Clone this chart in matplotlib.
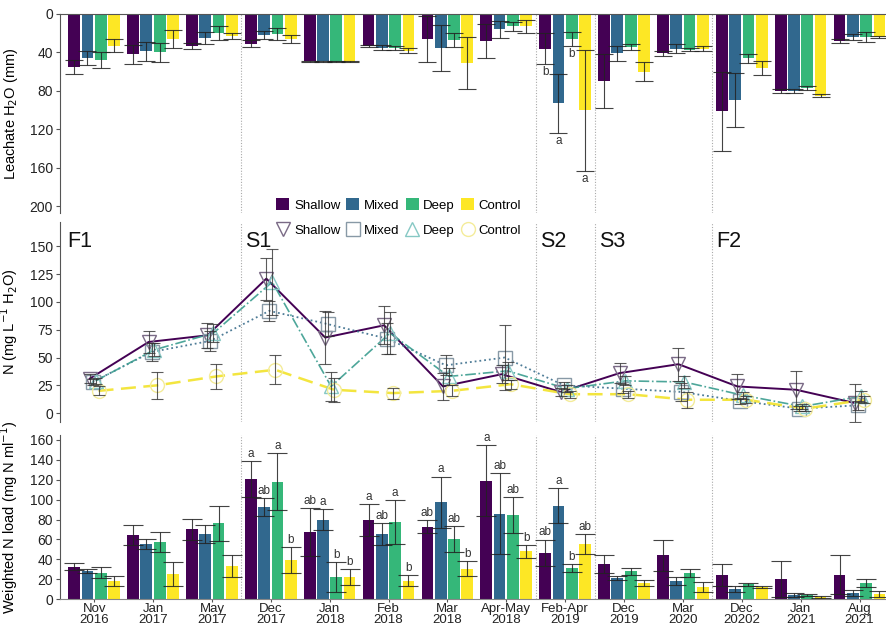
import numpy as np
import matplotlib.pyplot as plt
from matplotlib.patches import Patch
from matplotlib.lines import Line2D

plt.rcParams['font.family'] = ['Liberation Sans', 'DejaVu Sans']

dates = ["Nov\n2016", "Jan\n2017", "May\n2017", "Dec\n2017", "Jan\n2018", "Feb\n2018",
         "Mar\n2018", "Apr-May\n2018", "Feb-Apr\n2019", "Dec\n2019", "Mar\n2020",
         "Dec\n20202", "Jan\n2021", "Aug\n2021"]
treatments = ["Shallow", "Mixed", "Deep", "Control"]
phase_labels = ["F1", "S1", "S2", "S3", "F2"]
phase_starts = [-0.5, 2.5, 7.5, 8.5, 10.5]

# leachate volume (mm), mean and se per treatment
leach_shallow = [55, 42, 33, 31, 49, 33, 26, 28, 36, 70, 41, 101, 80, 28]
leach_shallow_se = [7, 9.5, 3, 3.5, 0.5, 1, 24, 17.5, 16, 28, 3, 41, 2, 2.5]
leach_mixed = [46, 39, 25, 22, 49, 35, 35, 16, 93, 41, 36, 89, 80, 24]
leach_mixed_se = [7, 10, 6.5, 4, 0.5, 2.5, 24, 8.5, 31, 8, 5, 28, 2.5, 3.5]
leach_deep = [48, 40, 20, 21, 49.5, 35.5, 27, 13, 26, 34, 37, 46, 77, 24]
leach_deep_se = [8.5, 10, 7, 6, 0.5, 2, 7, 5, 7.5, 3, 2, 4.5, 2.5, 5]
leach_control = [33, 26, 23, 26, 49.5, 38, 51, 13, 100, 60, 36, 56, 85, 24]
leach_control_se = [7, 9, 3, 4, 0.5, 3, 27, 7, 63, 10, 2.5, 7, 1.5, 1]
leach_letters = {8: ["b", "a", "b", "a"]}

# N concentration (mg/L)
conc_shallow = [31, 64, 70, 121, 68, 79, 24, 35, 19, 36, 44, 24, 21, 9]
conc_shallow_se = [4, 10, 11, 19, 24, 17, 12, 8, 4, 9, 15, 11, 17, 17]
conc_mixed = [28, 55, 65, 92, 80, 67, 43, 50, 25, 22, 19, 11, 4, 7]
conc_mixed_se = [3, 8, 9, 9, 11, 14, 9, 29, 3, 4, 8, 3, 2, 4]
conc_deep = [29, 57, 72, 118, 24, 72, 33, 38, 22, 29, 28, 16, 6, 15]
conc_deep_se = [3, 6, 8, 30, 13, 19, 8, 8, 3, 4, 5, 3, 2, 5]
conc_control = [20, 25, 33, 39, 21, 18, 20, 26, 17, 17, 12, 12, 4, 12]
conc_control_se = [4, 12, 11, 13, 11, 5, 5, 4, 3, 3, 7, 3, 2, 3]

# weighted N load
load_shallow = [32.6, 64.7, 70.4, 121, 67.2, 79.4, 72.6, 119, 46.4, 35.2, 44.2, 24.4, 19.9, 24.4]
load_shallow_se = [3.5, 10, 10.5, 18, 24, 16, 6.5, 35.5, 13.5, 9, 15.7, 11, 18, 19.5]
load_mixed = [27.8, 55.4, 65.6, 92.8, 80, 65.6, 97.6, 85.8, 93.8, 21.5, 18.3, 10, 4.2, 6.4]
load_mixed_se = [2, 5.5, 9, 9, 10.5, 11, 25.6, 40.6, 17.6, 2, 4, 3, 2, 3]
load_deep = [26.6, 57.6, 76.2, 118, 22.4, 77.4, 60.2, 84.2, 31.4, 27.8, 26.6, 14.7, 4, 16]
load_deep_se = [5.5, 10, 17.5, 28.5, 15, 22, 13, 18, 4, 3.5, 4, 2, 1, 4]
load_control = [18.6, 25.6, 33, 39, 21.8, 18.6, 30.4, 48, 55.4, 16, 12.2, 12.2, 2.6, 5.2]
load_control_se = [5, 12, 11, 13, 8, 5.4, 7.5, 6.5, 10, 3, 5, 1, 1, 3]
load_letters = {
    3: ["a", "ab", "a", "b"],
    4: ["ab", "a", "b", "b"],
    5: ["a", "ab", "a", "b"],
    6: ["ab", "a", "ab", "b"],
    7: ["a", "ab", "ab", "b"],
    8: ["ab", "a", "b", "ab"],
}

colors = ["#440154", "#31688E", "#35B779", "#FDE725"]
x = np.arange(len(dates))
bar_w = 0.2
step = 0.226
offsets = (np.arange(4) - 1.5) * step
xlim = (-0.58, 13.45)

fig = plt.figure(figsize=(8.86, 6.36), dpi=100)
left, width = 0.0677, 0.9323
ax1 = fig.add_axes([left, 0.665, width, 0.313])
ax2 = fig.add_axes([left, 0.3365, width, 0.3145])
ax3 = fig.add_axes([left, 0.058, width, 0.258])

spine_col = "#555555"
for ax in (ax1, ax2, ax3):
    ax.set_xlim(*xlim)
    for s in ax.spines.values():
        s.set_visible(False)
    ax.spines["left"].set_visible(True)
    ax.spines["left"].set_color(spine_col)
    ax.tick_params(axis="y", labelsize=10, length=3, color=spine_col, pad=2,
                   labelcolor="#222222")
    for xv in phase_starts[1:]:
        ax.axvline(xv, color="#aaaaaa", lw=0.8, ls=(0, (1, 1.5)), zorder=0)


def draw_bars(ax, means, ses, caps):
    for i in range(4):
        ax.bar(x + offsets[i], means[i], width=bar_w, color=colors[i], zorder=2)
        ax.errorbar(x + offsets[i], means[i], yerr=ses[i], fmt="none",
                    ecolor="#222222", elinewidth=0.8, capsize=caps, capthick=0.8,
                    alpha=0.85, zorder=3)


# top: leachate, bars hang down from zero
leach = [leach_shallow, leach_mixed, leach_deep, leach_control]
leach_se = [leach_shallow_se, leach_mixed_se, leach_deep_se, leach_control_se]
draw_bars(ax1, leach, leach_se, 6.5)
ax1.set_ylim(207, 0)
ax1.set_yticks([0, 40, 80, 120, 160, 200])
ax1.spines["top"].set_visible(True)
ax1.spines["top"].set_color(spine_col)
ax1.set_xticks([])
ax1.set_ylabel("Leachate H$_2$O (mm)", fontsize=10.5)
for g, labs in leach_letters.items():
    for i, lab in enumerate(labs):
        ax1.text(x[g] + offsets[i], leach[i][g] + leach_se[i][g] + 2, lab,
                 ha="center", va="top", fontsize=8.5, color="#333333")

# middle: N concentration lines
conc = [conc_shallow, conc_mixed, conc_deep, conc_control]
conc_se = [conc_shallow_se, conc_mixed_se, conc_deep_se, conc_control_se]
line_cols = ["#440154", "#3b6e8c", "#3a9d8f", "#f2e32a"]
line_styles = ["-", ":", "-.", (0, (6, 3))]
line_widths = [1.4, 1.3, 1.2, 1.8]
markers = ["v", "s", "^", "o"]
marker_cols = ["#7a6a86", "#8899a6", "#86c8c4", "#f4ec9a"]
dodge = np.array([-0.075, -0.025, 0.025, 0.075])
for i in range(4):
    xs = x + dodge[i]
    ax2.plot(xs, conc[i], color=line_cols[i], ls=line_styles[i], lw=line_widths[i],
             alpha=0.9 if i else 1.0, zorder=3)
    ax2.plot(xs, conc[i], ls="none", marker=markers[i], ms=10, mfc="none",
             mec=marker_cols[i], mew=1.0, zorder=4)
    ax2.errorbar(xs, conc[i], yerr=conc_se[i], fmt="none", ecolor="#333333",
                 elinewidth=0.8, capsize=4.5, capthick=0.8, alpha=0.8, zorder=5)
ax2.set_ylim(-8, 172)
ax2.set_yticks([0, 25, 50, 75, 100, 125, 150])
ax2.set_xticks([])
ax2.set_ylabel("N (mg L$^{-1}$ H$_2$O)", fontsize=10.5)
for lab, xv in zip(phase_labels, phase_starts):
    ax2.text(xv + 0.07 if xv > 0 else -0.46, 154, lab, fontsize=15.5,
             ha="left", va="center", color="#111111")

# bottom: weighted N load
load = [load_shallow, load_mixed, load_deep, load_control]
load_se = [load_shallow_se, load_mixed_se, load_deep_se, load_control_se]
draw_bars(ax3, load, load_se, 7)
ax3.set_ylim(0, 165)
ax3.set_yticks(np.arange(0, 161, 20))
ax3.spines["bottom"].set_visible(True)
ax3.spines["bottom"].set_color("#888888")
ax3.set_xticks(x)
ax3.set_xticklabels(dates, fontsize=9.5, linespacing=0.95, color="#222222")
ax3.tick_params(axis="x", length=2, color=spine_col, pad=0.5)
ax3.set_ylabel("Weighted N load (mg N ml$^{-1}$)", fontsize=10.5)
for g, labs in load_letters.items():
    for i, lab in enumerate(labs):
        ax3.text(x[g] + offsets[i], load[i][g] + load_se[i][g] + 1.2, lab,
                 ha="center", va="bottom", fontsize=8.5, color="#333333")

for ax in (ax1, ax2, ax3):
    ax.yaxis.set_label_coords(-0.048, 0.5)

# legends
bar_handles = [Patch(facecolor=c, edgecolor="none") for c in colors]
fig.legend(bar_handles, treatments, loc="center", bbox_to_anchor=(0.45, 0.678),
           ncol=4, frameon=False, fontsize=9.5, handlelength=1.0, handleheight=1.0,
           handletextpad=0.35, columnspacing=0.45)
pt_handles = [Line2D([], [], ls="none", marker=m, ms=10, mfc="none", mec=c, mew=1.0)
              for m, c in zip(markers, marker_cols)]
fig.legend(pt_handles, treatments, loc="center", bbox_to_anchor=(0.45, 0.637),
           ncol=4, frameon=False, fontsize=9.5, handlelength=1.0,
           handletextpad=0.35, columnspacing=0.45)

fig.savefig("out.png", dpi=100)
